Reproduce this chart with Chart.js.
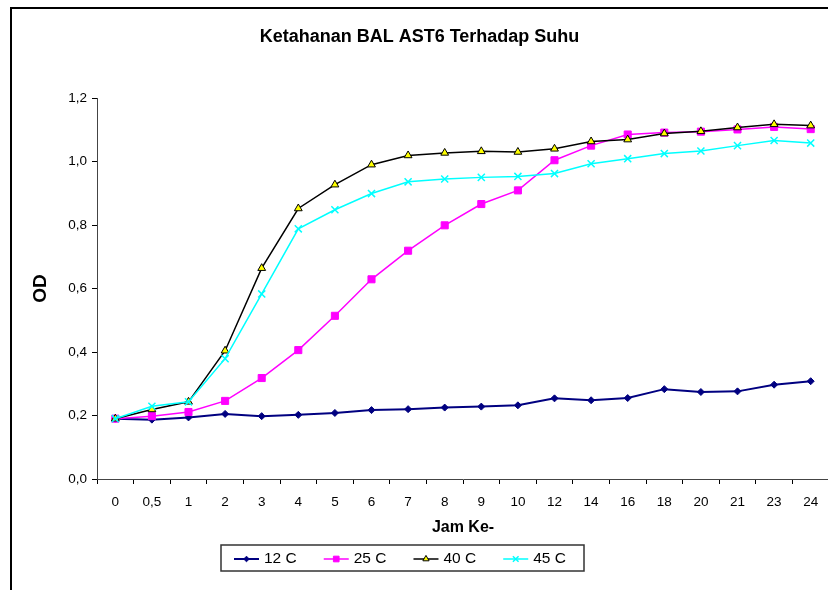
<!DOCTYPE html>
<html>
<head>
<meta charset="utf-8">
<script src="https://cdn.jsdelivr.net/npm/chart.js@4.4.1/dist/chart.umd.min.js"></script>
<style>
  html, body { margin: 0; padding: 0; background: #fff; overflow: hidden; width: 828px; height: 590px; }
  #bingkai { position: absolute; left: 10px; top: 7px; width: 900px; height: 700px; border: 2px solid #000; }
  #grafik { position: absolute; left: 0; top: 0; }
</style>
</head>
<body>
<div id="bingkai"></div>
<canvas id="grafik" width="850" height="590"></canvas>
<script>
// jam pengamatan (sumbu x)
const jamKe = ["0", "0,5", "1", "2", "3", "4", "5", "6", "7", "8", "9", "10", "12", "14", "16", "18", "20", "21", "23", "24"]

// nilai OD tiap suhu
const od12 = [0.19, 0.187, 0.194, 0.205, 0.198, 0.202, 0.208, 0.217, 0.22, 0.225, 0.228, 0.232, 0.254, 0.248, 0.255, 0.283, 0.274, 0.276, 0.297, 0.308]
const od25 = [0.19, 0.198, 0.211, 0.246, 0.318, 0.406, 0.514, 0.629, 0.719, 0.799, 0.866, 0.909, 1.004, 1.05, 1.085, 1.091, 1.094, 1.101, 1.109, 1.102]
const od40 = [0.19, 0.219, 0.243, 0.404, 0.664, 0.852, 0.927, 0.99, 1.019, 1.027, 1.032, 1.03, 1.04, 1.063, 1.069, 1.088, 1.095, 1.107, 1.117, 1.113]
const od45 = [0.19, 0.229, 0.243, 0.379, 0.583, 0.788, 0.848, 0.899, 0.936, 0.945, 0.95, 0.953, 0.962, 0.993, 1.009, 1.025, 1.033, 1.05, 1.066, 1.058]

const namaSeri = ["12 C", "25 C", "40 C", "45 C"]

const huruf = '"Liberation Sans", Arial, sans-serif'

// legenda kotak di bawah, seperti di Excel
const legendaKotak = {
    id: 'legendaKotak',
    afterDraw(chart) {
        const ctx = chart.ctx
        const kiri = 221, atas = 545, lebar = 363, tinggi = 26
        ctx.save()
        ctx.strokeStyle = '#333'
        ctx.lineWidth = 1.5
        ctx.strokeRect(kiri, atas, lebar, tinggi)
        ctx.font = '15.5px ' + huruf
        ctx.textBaseline = 'middle'
        let x = kiri + 13
        const y = atas + tinggi / 2 + 1
        chart.data.datasets.forEach((ds) => {
            ctx.strokeStyle = ds.borderColor
            ctx.lineWidth = ds.borderWidth
            ctx.beginPath()
            ctx.moveTo(x, y)
            ctx.lineTo(x + 25, y)
            ctx.stroke()
            ctx.fillStyle = ds.pointBackgroundColor
            ctx.strokeStyle = ds.pointBorderColor
            ctx.lineWidth = ds.pointBorderWidth
            Chart.helpers.drawPoint(ctx, {
                pointStyle: ds.pointStyle,
                radius: ds.pointRadius * 0.8,
                borderWidth: ds.pointBorderWidth,
                rotation: 0
            }, x + 12.5, y)
            ctx.fillStyle = '#000'
            ctx.fillText(ds.label, x + 30, y)
            x += 30 + ctx.measureText(ds.label).width + 27
        })
        ctx.restore()
    }
}

const data = {
    labels: jamKe,
    datasets: [{
        label: namaSeri[0],
        data: od12,
        borderColor: '#000080',
        borderWidth: 2,
        pointStyle: 'rectRot',
        pointRadius: 3.5,
        pointBackgroundColor: '#000080',
        pointBorderColor: '#000080',
        pointBorderWidth: 1,
        order: 3
    }, {
        label: namaSeri[1],
        data: od25,
        borderColor: '#ff00ff',
        borderWidth: 1.5,
        pointStyle: 'rect',
        pointRadius: 5,
        pointBackgroundColor: '#ff00ff',
        pointBorderColor: '#ff00ff',
        pointBorderWidth: 1,
        order: 2
    }, {
        label: namaSeri[2],
        data: od40,
        borderColor: '#000000',
        borderWidth: 1.5,
        pointStyle: 'triangle',
        pointRadius: 4.5,
        pointBackgroundColor: '#ffff00',
        pointBorderColor: '#000000',
        pointBorderWidth: 1,
        order: 1
    }, {
        label: namaSeri[3],
        data: od45,
        borderColor: '#00ffff',
        borderWidth: 1.5,
        pointStyle: 'crossRot',
        pointRadius: 5,
        pointBackgroundColor: '#00ffff',
        pointBorderColor: '#00ffff',
        pointBorderWidth: 1.5,
        order: 0
    }]
}

const config = {
    type: 'line',
    data: data,
    options: {
        responsive: false,
        devicePixelRatio: 1,
        animation: false,
        tension: 0,
        layout: { padding: { left: 10, right: 21, top: 0, bottom: 51 } },
        plugins: {
            legend: { display: false },
            tooltip: { enabled: false },
            title: {
                display: true,
                text: 'Ketahanan BAL AST6 Terhadap Suhu',
                color: '#000',
                font: { family: huruf, size: 18, weight: 'bold' },
                padding: { top: 26, bottom: 50.4 }
            }
        },
        scales: {
            x: {
                offset: true,
                afterFit: (scale) => { scale.height = 60 },
                grid: { offset: true, drawOnChartArea: false, drawTicks: true, tickLength: 5, color: '#000' },
                border: { color: '#444', width: 1 },
                ticks: { color: '#000', font: { family: huruf, size: 13.5 }, padding: 10, maxRotation: 0, autoSkip: false },
                title: { display: true, text: 'Jam Ke-', color: '#000', font: { family: huruf, size: 16, weight: 'bold' }, padding: { top: 0, bottom: 2 } }
            },
            y: {
                min: 0,
                max: 1.2,
                afterFit: (scale) => { scale.width = 87 },
                grid: { drawOnChartArea: false, drawTicks: true, tickLength: 5, color: '#000' },
                border: { color: '#444', width: 1 },
                ticks: {
                    stepSize: 0.2,
                    color: '#000',
                    font: { family: huruf, size: 13.5 },
                    padding: 5,
                    callback: (v) => v.toFixed(1).replace('.', ',')
                },
                title: { display: true, text: 'OD', color: '#000', font: { family: huruf, size: 19, weight: 'bold' }, padding: { top: 19, bottom: 0 } }
            }
        }
    },
    plugins: [legendaKotak]
}

const ctx = document.getElementById('grafik')

new Chart(ctx, config)
</script>
</body>
</html>
